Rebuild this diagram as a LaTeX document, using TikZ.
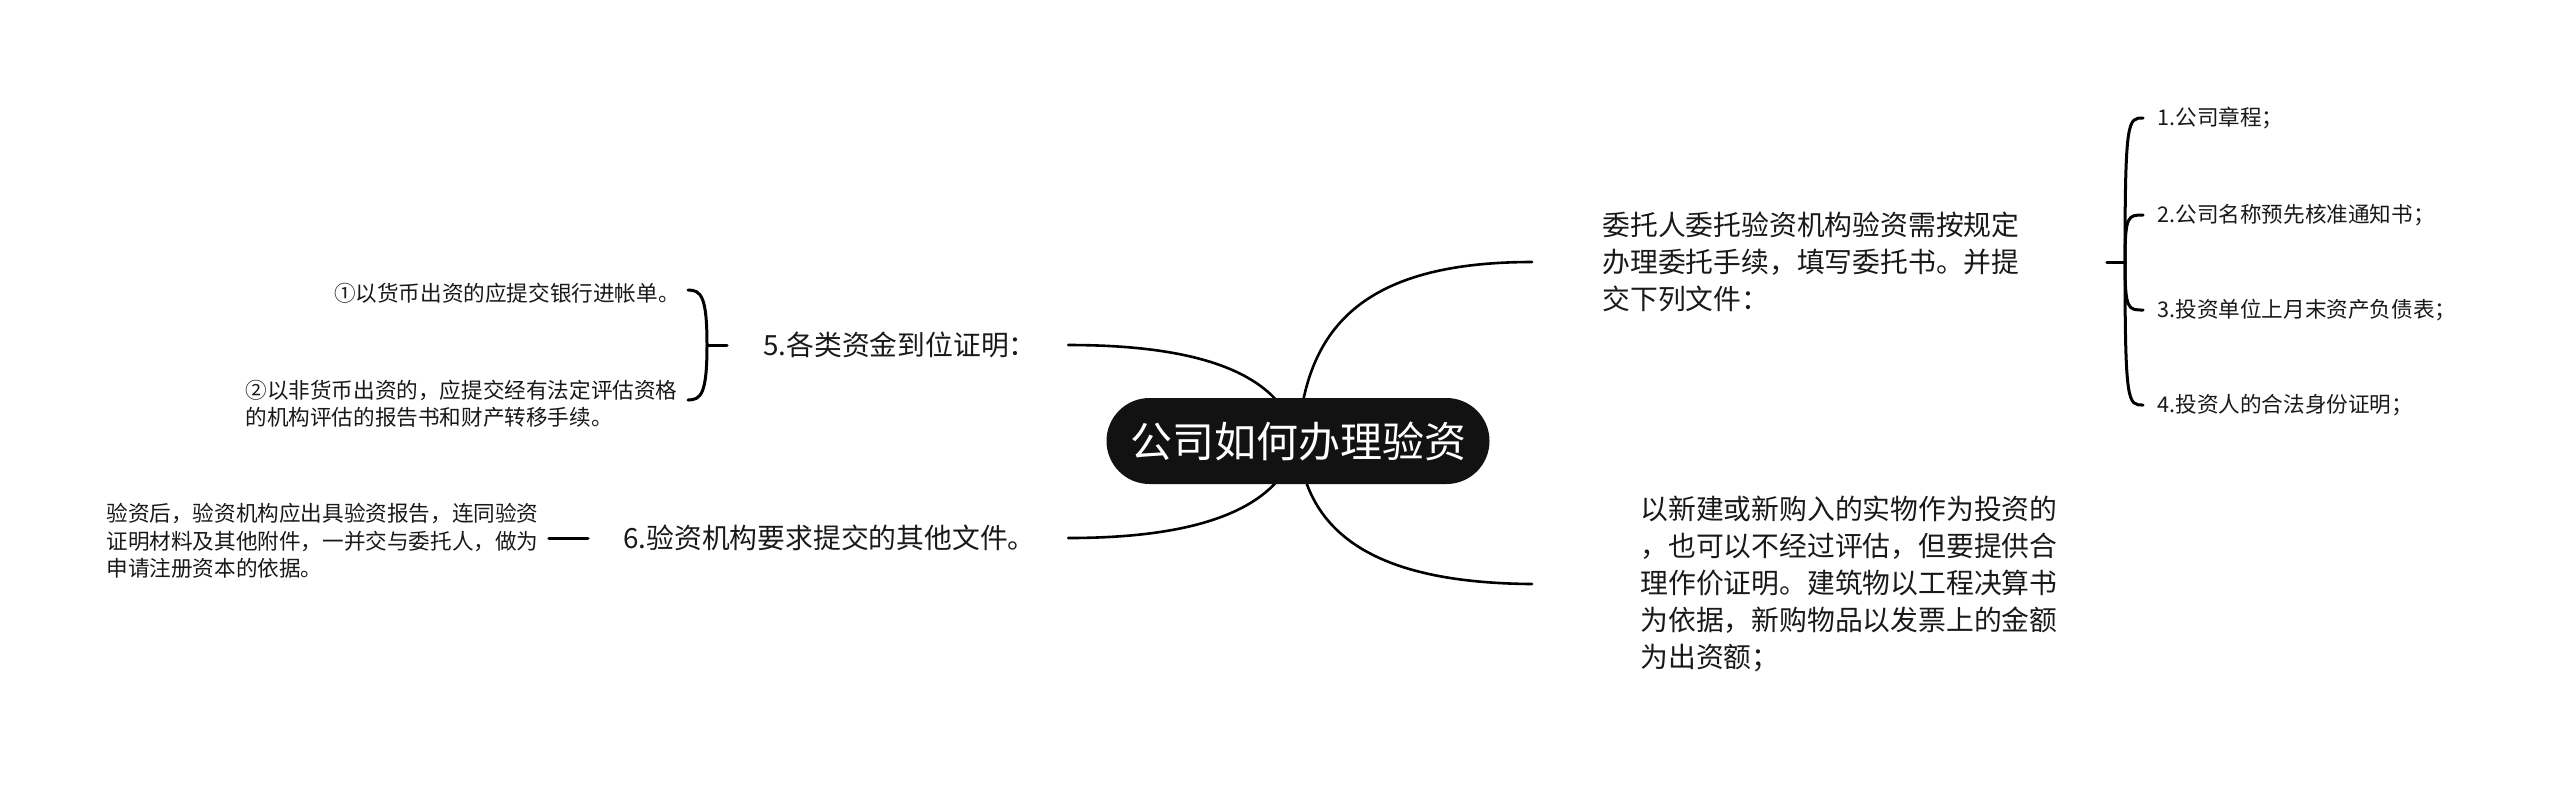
\documentclass[tikz,border=0pt]{standalone}
\usepackage{fontspec}
\setmainfont{Noto Sans CJK SC}
\usetikzlibrary{calc}
\begin{document}
\begin{tikzpicture}[x=0.5pt,y=-0.5pt,
  conn/.style={line width=1.3pt, line cap=round},
  brace/.style={line width=1.5pt, line cap=round},
  mainT/.style={inner sep=0pt, align=left, text=black!90, font=\fontsize{13.9pt}{18.6pt}\selectfont},
  smallT/.style={inner sep=0pt, align=left, text=black!90, font=\fontsize{10.8pt}{13.6pt}\selectfont},
  rootbox/.style={fill=black!93, text=white, rounded corners=21.5pt, minimum width=191.5pt, minimum height=43pt, inner sep=0pt, font=\fontsize{21pt}{25pt}\selectfont}]
\useasboundingbox (0,0) rectangle (2560,784);
\fill[white] (0,0) rectangle (2560,784);

% main branch texts
\node[mainT, anchor=west] (b1) at (1602,262) {委托人委托验资机构验资需按规定\\办理委托手续，填写委托书。并提\\交下列文件：};
\node[mainT, anchor=west] (b2) at (1640,584) {以新建或新购入的实物作为投资的\\，也可以不经过评估，但要提供合\\理作价证明。建筑物以工程决算书\\为依据，新购物品以发票上的金额\\为出资额；};
\node[mainT, anchor=west] (b3) at (763,345) {5.各类资金到位证明：};
\node[mainT, anchor=west] (b4) at (623,538) {6.验资机构要求提交的其他文件。};

% sub items right
\node[smallT, anchor=west] (c1) at (2157,118) {1.公司章程；};
\node[smallT, anchor=west] (c2) at (2157,215) {2.公司名称预先核准通知书；};
\node[smallT, anchor=west] (c3) at (2157,310) {3.投资单位上月末资产负债表；};
\node[smallT, anchor=west] (c4) at (2157,405) {4.投资人的合法身份证明；};

% sub items left
\node[smallT, anchor=east] (d1) at (680,293) {①以货币出资的应提交银行进帐单。};
\node[smallT, anchor=west] (d2) at (245,403.5) {②以非货币出资的，应提交经有法定评估资格\\的机构评估的报告书和财产转移手续。};
\node[smallT, anchor=west, font=\fontsize{10.8pt}{13.75pt}\selectfont] (e1) at (106,541) {验资后，验资机构应出具验资报告，连同验资\\证明材料及其他附件，一并交与委托人，做为\\申请注册资本的依据。};

% root connectors
\coordinate (rc) at (1298,441);
\draw[conn] (rc) .. controls (1305,330) and (1360,262) .. ([xshift=-35pt]b1.west);
\draw[conn] (rc) .. controls (1305,540) and (1385,583) .. ([xshift=-54pt]b2.west);
\draw[conn] (rc) .. controls (1280,365) and (1180,345) .. ($(b3.east)+(15.5pt,0)$);
\draw[conn] (rc) .. controls (1280,517) and (1180,538) .. ($(b4.east)+(16pt,0)$);

% root node
\node[rootbox] (root) at (rc) {公司如何办理验资};

% right brace
\coordinate (jr) at (2125,262);
\draw[brace] ($(b1.east)+(43.5pt,0)$) -- (jr);
\foreach \c in {c1,c2,c3,c4}{
  \draw[brace] (jr) .. controls (jr |- \c.west) and ($(jr |- \c.west)+(3,0)$) .. ($(\c.west)+(-7pt,0)$);
}

% left brace
\coordinate (jl) at (707,345);
\draw[brace] ($(b3.west)+(-18pt,0)$) -- (jl);
\coordinate (d1e) at (688,290);
\coordinate (d2e) at (688,400);
\draw[brace] (jl) .. controls (707,296) and (701,290) .. (d1e);
\draw[brace] (jl) .. controls (707,394) and (701,400) .. (d2e);

% left tick for item 6
\draw[brace] ($(b4.west)+(-17.5pt,0)$) -- ($(b4.west -| e1.east)+(5pt,0)$);
\end{tikzpicture}
\end{document}
